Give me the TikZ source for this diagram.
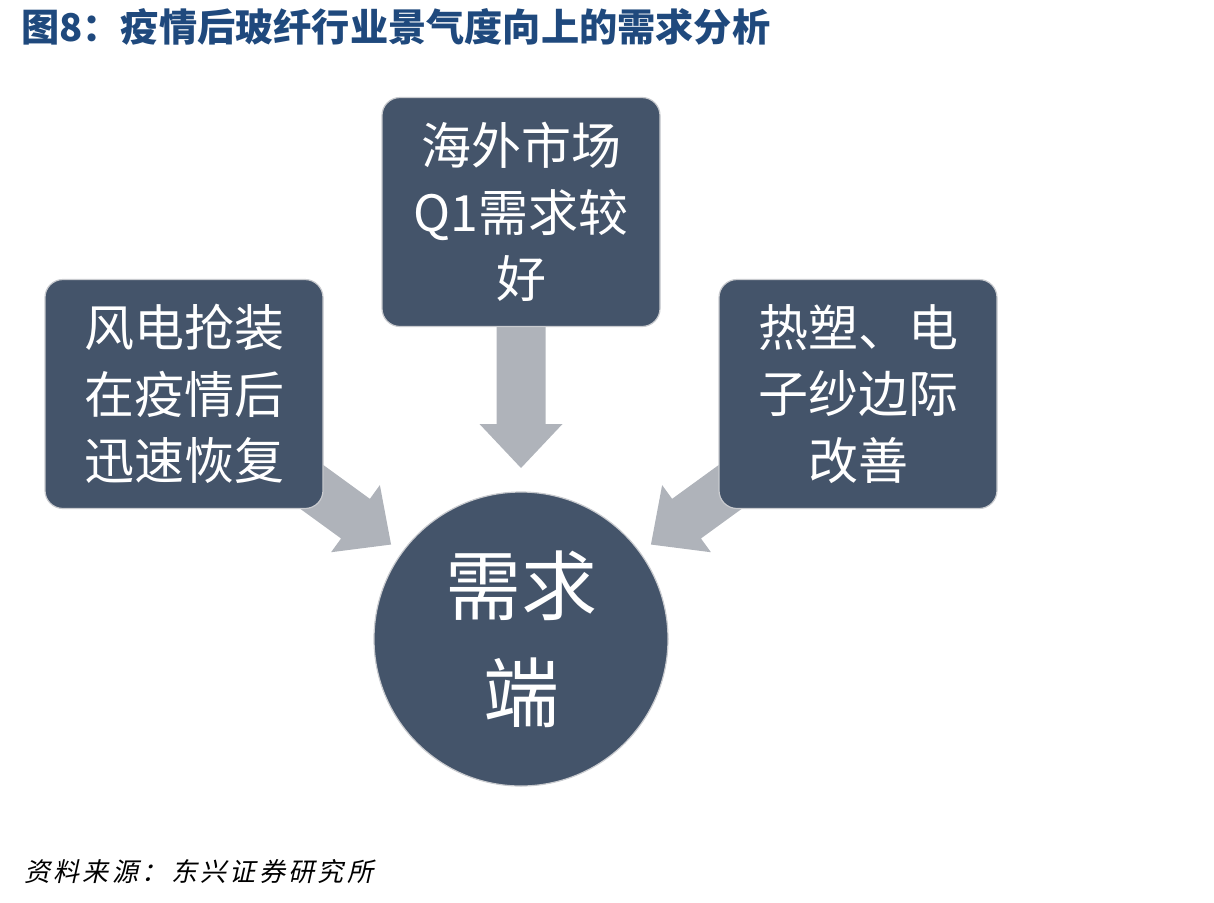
\documentclass[tikz,border=0pt]{standalone}
\usepackage{fontspec}
\setmainfont{Noto Sans CJK SC}
\newfontfamily\slantcjk{Noto Sans CJK SC}[FakeSlant=0.22,LetterSpace=13]
\usetikzlibrary{calc}
\definecolor{boxblue}{HTML}{44546A}
\definecolor{boxedge}{HTML}{C9CBCF}
\definecolor{arrowgray}{HTML}{AFB3BA}
\definecolor{titleblue}{HTML}{1F497D}
\pgfdeclarelayer{bg}
\pgfsetlayers{bg,main}
\newcommand{\blockarrow}[2]{%
  \coordinate (hb) at ($(#1)!212pt!(#2)$);
  \coordinate (ht) at ($(#1)!256pt!(#2)$);
  \fill[arrowgray] ($(#1)!24.5pt!90:(#2)$) -- ($(hb)!24.5pt!90:(#2)$) -- ($(hb)!41.5pt!90:(#2)$) -- (ht)
    -- ($(hb)!41.5pt!-90:(#2)$) -- ($(hb)!24.5pt!-90:(#2)$) -- ($(#1)!24.5pt!-90:(#2)$) -- cycle;}
\begin{document}
\begin{tikzpicture}[x=1pt,y=-1pt,
  box/.style={fill=boxblue, draw=boxedge, line width=1.2pt, rounded corners=18pt,
    minimum width=278pt, minimum height=229pt, text=white, align=center, inner sep=0pt,
    font=\fontsize{50}{66.5}\selectfont},
  hub/.style={circle, fill=boxblue, draw=boxedge, line width=1.2pt, minimum size=294pt,
    text=white, align=center, inner sep=0pt, font=\fontsize{76}{107}\selectfont}]
\useasboundingbox (0,0) rectangle (1214,902);
\node[anchor=west, text=titleblue, font=\fontsize{38.2}{40}\selectfont\bfseries, inner sep=0pt] (title) at (21,27) {图8：疫情后玻纤行业景气度向上的需求分析};
\node[box] (left) at (184,394) {风电抢装\\在疫情后\\迅速恢复};
\node[box] (top) at (521,212) {海外市场\\Q1需求较\\好};
\node[box] (right) at (858,394) {热塑、电\\子纱边际\\改善};
\node[hub] (hub) at (521,639) {需求\\端};
\begin{pgfonlayer}{bg}
\blockarrow{left}{hub}
\blockarrow{top}{hub}
\blockarrow{right}{hub}
\end{pgfonlayer}
\node[anchor=west, inner sep=0pt, font=\fontsize{26}{28}\selectfont\slantcjk] (source) at (24,872) {资料来源：东兴证券研究所};
\end{tikzpicture}
\end{document}
